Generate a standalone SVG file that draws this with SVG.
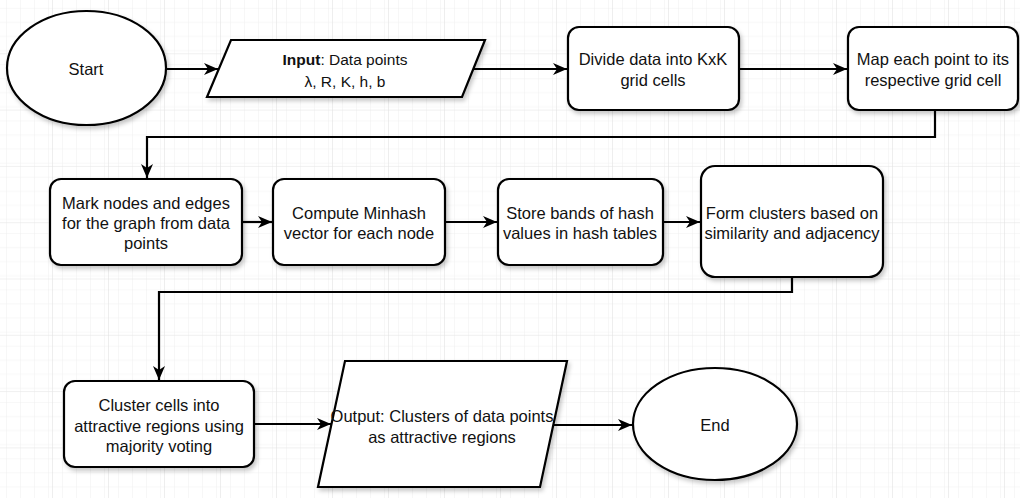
<svg xmlns="http://www.w3.org/2000/svg" width="1020" height="498" viewBox="0 0 1020 498">
  <defs>
    <pattern id="minor" x="-4" y="-3" width="14" height="14" patternUnits="userSpaceOnUse">
      <path d="M0,0 H14 M0,0 V14" fill="none" stroke="#f0f0f0" stroke-width="1"/>
    </pattern>
    <pattern id="major" x="-4" y="-3" width="56" height="56.3" patternUnits="userSpaceOnUse">
      <rect width="56" height="56.3" fill="url(#minor)"/>
      <path d="M0,0 H56 M0,0 V56.3" fill="none" stroke="#e2e2e2" stroke-width="1.2"/>
    </pattern>
    <filter id="shadow" x="-10%" y="-10%" width="125%" height="130%">
      <feDropShadow dx="2" dy="3" stdDeviation="2" flood-color="#000" flood-opacity="0.22"/>
    </filter>
    <marker id="arrow" markerWidth="16" markerHeight="14" refX="14" refY="7" orient="auto" markerUnits="userSpaceOnUse">
      <path d="M0,1 L14,7 L0,13 L4,7 z" fill="#000"/>
    </marker>
  </defs>
  <style>
    .shape { fill: #fff; stroke: #000; stroke-width: 2.2; filter: url(#shadow); }
    .label { font-family: "Liberation Sans", Arial, sans-serif; font-size: 16.5px; fill: #111; text-anchor: middle; dominant-baseline: central; }
    .conn { fill: none; stroke: #000; stroke-width: 2.2; marker-end: url(#arrow); }
  </style>

  <rect width="1020" height="498" fill="#fff"/>
  <rect width="1020" height="498" fill="url(#major)"/>

  <g id="connectors">
    <path class="conn" d="M166,69 H218"/>
    <path class="conn" d="M473,69 H567"/>
    <path class="conn" d="M739,69 H847"/>
    <path class="conn" d="M935,110 V137 H147 V178"/>
    <path class="conn" d="M242,222 H272"/>
    <path class="conn" d="M445,222 H497"/>
    <path class="conn" d="M663,222 H700"/>
    <path class="conn" d="M792,277 V292 H159 V380"/>
    <path class="conn" d="M254,424 H331"/>
    <path class="conn" d="M553,425 H632"/>
  </g>

  <g id="start">
    <ellipse class="shape" cx="86.5" cy="68" rx="79.5" ry="57"/>
    <text class="label" x="86" y="69">Start</text>
  </g>

  <g id="input">
    <polygon class="shape" points="231,40 485,40 462,97 207,97"/>
    <text class="label" x="345" y="59" style="font-size:15.5px"><tspan font-weight="bold">Input</tspan>: Data points</text>
    <text class="label" x="345" y="81" style="font-size:15.5px">λ, R, K, h, b</text>
  </g>

  <g id="divide">
    <rect class="shape" x="568" y="27" width="171" height="83" rx="11"/>
    <text class="label" x="653" y="59">Divide data into KxK</text>
    <text class="label" x="653" y="80">grid cells</text>
  </g>

  <g id="map">
    <rect class="shape" x="848" y="27" width="170" height="83" rx="11"/>
    <text class="label" x="933" y="59">Map each point to its</text>
    <text class="label" x="933" y="80">respective grid cell</text>
  </g>

  <g id="mark">
    <rect class="shape" x="50" y="179" width="192" height="86" rx="11"/>
    <text class="label" x="146" y="203">Mark nodes and edges</text>
    <text class="label" x="146" y="223">for the graph from data</text>
    <text class="label" x="146" y="243">points</text>
  </g>

  <g id="compute">
    <rect class="shape" x="273" y="179" width="172" height="86" rx="11"/>
    <text class="label" x="359" y="213">Compute Minhash</text>
    <text class="label" x="359" y="233">vector for each node</text>
  </g>

  <g id="store">
    <rect class="shape" x="498" y="179" width="165" height="86" rx="11"/>
    <text class="label" x="580" y="213">Store bands of hash</text>
    <text class="label" x="580" y="233">values in hash tables</text>
  </g>

  <g id="form">
    <rect class="shape" x="701" y="166" width="182" height="111" rx="14"/>
    <text class="label" x="792" y="213">Form clusters based on</text>
    <text class="label" x="792" y="233">similarity and adjacency</text>
  </g>

  <g id="cluster">
    <rect class="shape" x="64" y="381" width="190" height="86" rx="11"/>
    <text class="label" x="159" y="405">Cluster cells into</text>
    <text class="label" x="159" y="426">attractive regions using</text>
    <text class="label" x="159" y="446">majority voting</text>
  </g>

  <g id="output">
    <polygon class="shape" points="345,361 567,361 540,487 318,487"/>
    <text class="label" x="442" y="416">Output: Clusters of data points</text>
    <text class="label" x="442" y="437">as attractive regions</text>
  </g>

  <g id="end">
    <ellipse class="shape" cx="715" cy="424" rx="82" ry="56"/>
    <text class="label" x="715" y="425">End</text>
  </g>
</svg>
